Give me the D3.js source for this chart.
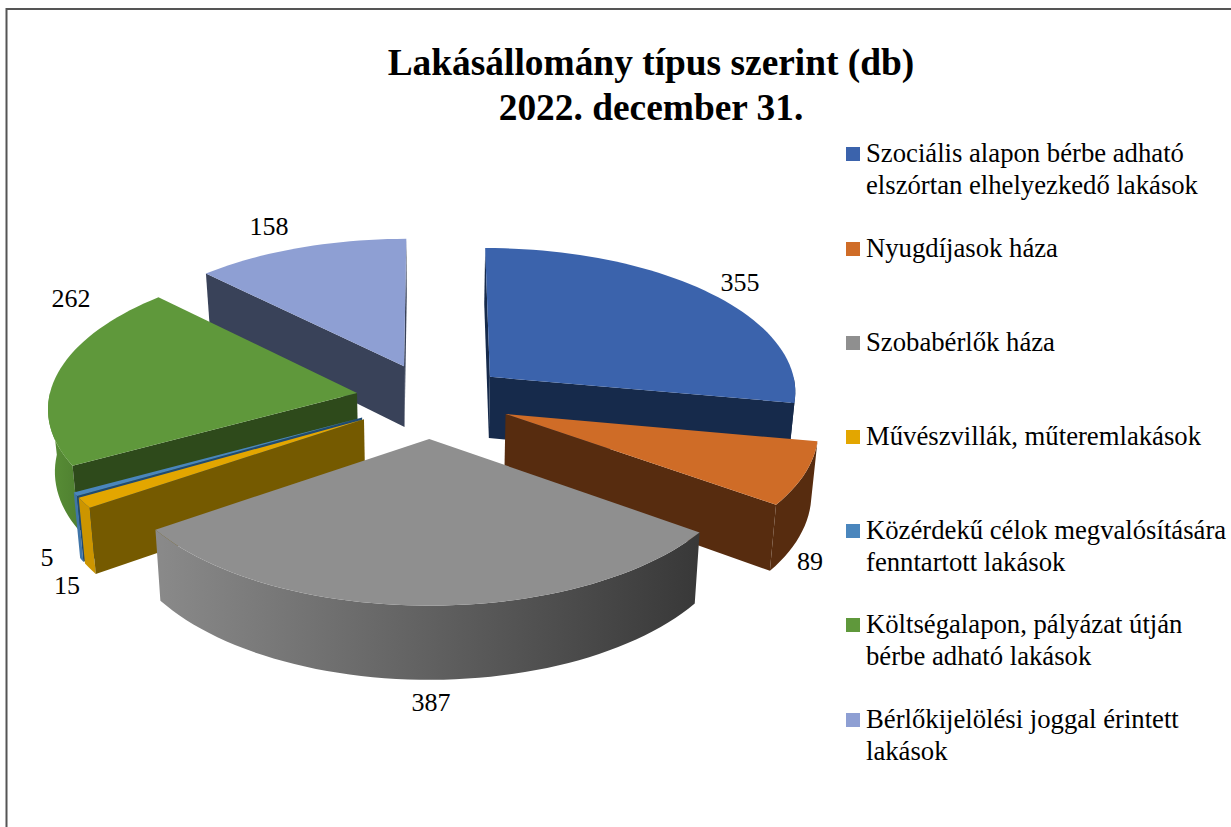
<!DOCTYPE html>
<html lang="hu"><head><meta charset="utf-8">
<script src="https://cdn.jsdelivr.net/npm/d3@7/dist/d3.min.js"></script>
<style>html,body{margin:0;padding:0;background:#fff}svg{display:block}text{font-family:"Liberation Serif",serif;fill:#000}</style>
</head><body><svg id="c" width="1231" height="827"></svg>
<script>
const categories = ["Szociális alapon bérbe adható elszórtan elhelyezkedő lakások","Nyugdíjasok háza","Szobabérlők háza","Művészvillák, műteremlakások","Közérdekű célok megvalósítására fenntartott lakások","Költségalapon, pályázat útján bérbe adható lakások","Bérlőkijelölési joggal érintett lakások"];
const values = [355,89,387,15,5,262,158];
const titleLines = ["Lakásállomány típus szerint (db)","2022. december 31."];
const legendLines = [["Szociális alapon bérbe adható","elszórtan elhelyezkedő lakások"],["Nyugdíjasok háza"],["Szobabérlők háza"],["Művészvillák, műteremlakások"],["Közérdekű célok megvalósítására","fenntartott lakások"],["Költségalapon, pályázat útján","bérbe adható lakások"],["Bérlőkijelölési joggal érintett","lakások"]];
const topColors = ["#3B63AC","#CF6C27","#8F8F8F","#E3A600","#4A86BD","#5F983B","#8E9FD3"];
const wallColors = ["#162A4B","#572C0F","#3B3B3B","#755A00","#1F4A72","#2E4A1B","#394259"];
const outerLeft = ["#162A4B","#572C0F","#8A8A8A","#CC9500","#3F75A8","#598F37","#7080B0"];
const outerRight = ["#162A4B","#572C0F","#383838","#CC9500","#3F75A8","#4F8030","#7080B0"];
const labelAt = [[740,283],[810,562],[431,703],[67,586],[47,558],[71,299],[269,227]];
const nudge = [[0,0],[3,1],[-3,4],[-5,1],[-5,1],[-2,-1],[-1,-1]];
const depthBoost = [1,1,1.06,1,1,1,1];

const svg = d3.select("#c");
const cx=433, cy=399, R=308, explode=75, tilt=.469, D=3370, H=62;
function project(X,Y,z,k=1){            // z: 0 top face, 1 bottom face
  const s=D/(D-Y);
  return [cx+X*s*(1-.018*z), cy+tilt*Y*s+H*k*s*z];
}
const pie=d3.pie().sort(null).value(d=>d)(values);
const deg=Math.PI/180;
function pt(a,r,ox,oy,z,k){return project(ox+r*Math.sin(a),oy-r*Math.cos(a),z,k);}
const line=d3.line();
const defs=svg.append("defs");
const gPie=svg.append("g");
// painter's order, back to front
const order=[6,0,5,1,4,3,2];
function arcPts(a0,a1,ox,oy,z,k){
  const n=Math.max(2,Math.ceil((a1-a0)/(2*deg)));
  return d3.range(n+1).map(i=>pt(a0+(a1-a0)*i/n,R,ox,oy,z,k));
}
order.forEach(i=>{
  const p=pie[i], mid=(p.startAngle+p.endAngle)/2, k=depthBoost[i];
  const ox=explode*Math.sin(mid), oy=-explode*Math.cos(mid);
  const g=gPie.append("g").attr("transform",`translate(${nudge[i][0]},${nudge[i][1]})`);
  const a0=Math.max(p.startAngle,Math.PI/2), a1=Math.min(p.endAngle,Math.PI*1.5);
  if(a1>a0){
    const top=arcPts(a0,a1,ox,oy,0,k), bot=arcPts(a0,a1,ox,oy,1,k).reverse();
    const xs=top.concat(bot).map(d=>d[0]);
    const gid="g"+i;
    const lg=defs.append("linearGradient").attr("id",gid).attr("gradientUnits","userSpaceOnUse")
      .attr("x1",d3.min(xs)).attr("x2",d3.max(xs)).attr("y1",0).attr("y2",0);
    lg.append("stop").attr("offset",0).attr("stop-color",outerLeft[i]);
    lg.append("stop").attr("offset",1).attr("stop-color",outerRight[i]);
    g.append("path").attr("d",line(top.concat(bot))+"Z").attr("fill",`url(#${gid})`);
  }
  const wall=(a)=>[project(ox,oy,0,k),pt(a,R,ox,oy,0,k),pt(a,R,ox,oy,1,k),project(ox,oy,1,k)];
  const walls=[];
  if(Math.sin(p.startAngle)<.01) walls.push(wall(p.startAngle));
  if(Math.sin(p.endAngle)>-.01) walls.push(wall(p.endAngle));
  walls.sort((u,v)=>d3.mean(u,d=>d[1])-d3.mean(v,d=>d[1]))
    .forEach(w=>g.append("path").attr("d",line(w)+"Z").attr("fill",wallColors[i]));
  const face=[project(ox,oy,0,k)].concat(arcPts(p.startAngle,p.endAngle,ox,oy,0,k));
  g.append("path").attr("d",line(face)+"Z").attr("fill",topColors[i]);
});
// border
svg.append("path").attr("d","M6.5 827V9H1231").attr("fill","none").attr("stroke","#555").attr("stroke-width",2);
// title
titleLines.forEach((t,i)=>svg.append("text").attr("x",651).attr("y",75+i*44.5).attr("text-anchor","middle")
  .attr("font-size",37.4).attr("font-weight","bold").text(t));
// labels
values.forEach((v,i)=>svg.append("text").attr("x",labelAt[i][0]).attr("y",labelAt[i][1]+8).attr("text-anchor","middle")
  .attr("font-size",26).text(v));
// legend
const legendTop=[162,256.5,351,445,539,633,728];
legendLines.forEach((ls,i)=>{
  svg.append("rect").attr("x",846).attr("y",Math.round(legendTop[i]-15)).attr("width",14).attr("height",14).attr("fill",topColors[i]);
  ls.forEach((t,j)=>svg.append("text").attr("x",866).attr("y",legendTop[i]+j*31.5).attr("font-size",26.7).text(t));
});
</script></body></html>
